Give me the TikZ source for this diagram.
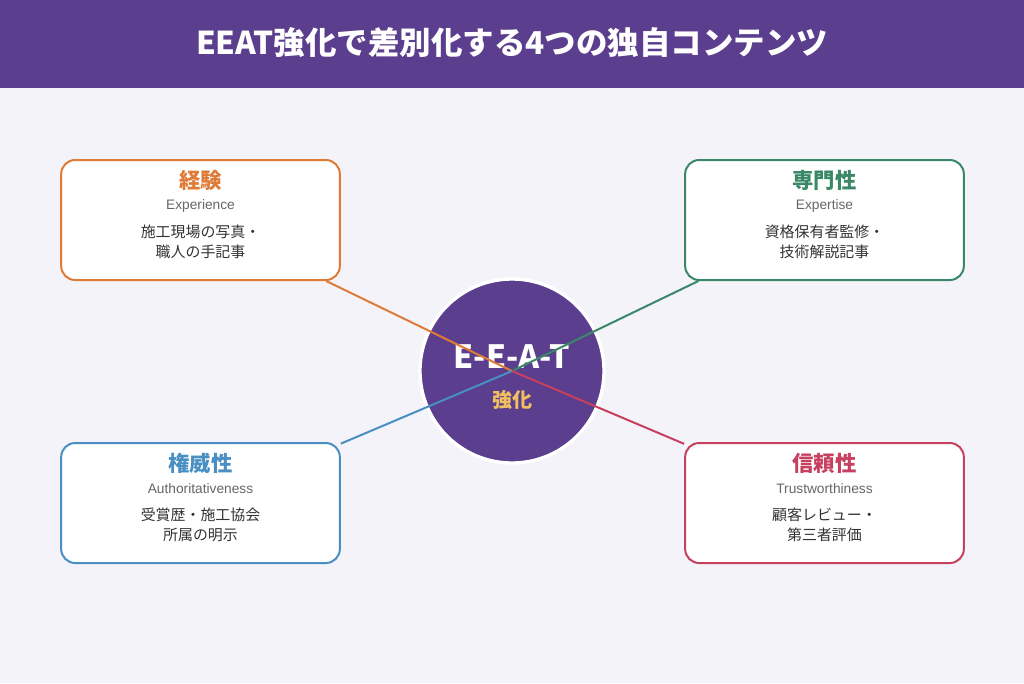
\documentclass[tikz,border=0pt]{standalone}
\usepackage{fontspec}
\setmainfont{Noto Sans CJK JP}
\newfontfamily\engfont{Liberation Sans}
\definecolor{purp}{HTML}{5B3E8E}
\definecolor{bgc}{HTML}{F4F3F9}
\definecolor{cor}{HTML}{DF7B36}
\definecolor{cgr}{HTML}{3B8868}
\definecolor{cbl}{HTML}{4A8FC3}
\definecolor{crd}{HTML}{C8405F}
\definecolor{cgold}{HTML}{F0C060}
\definecolor{tgrey}{HTML}{666666}
\definecolor{tdark}{HTML}{333333}
\tikzset{
  card/.style={draw=#1, line width=1.5pt, fill=white, rounded corners=10.5pt, minimum width=209pt, minimum height=90pt, inner sep=0pt},
  head/.style={text=#1, font=\fontsize{16}{18}\selectfont\bfseries, inner sep=0pt},
  eng/.style={text=tgrey, font=\engfont\fontsize{10.3}{12}\selectfont, inner sep=0pt},
  desc/.style={text=tdark, font=\fontsize{11.2}{15}\selectfont, align=center, inner sep=0pt},
  link/.style={draw=#1, line width=1.5pt},
}
\begin{document}
\begin{tikzpicture}[x=0.75pt,y=-0.75pt]
\useasboundingbox (0,0) rectangle (1024,683);
\fill[bgc] (0,0) rectangle (1024,683);
\fill[purp] (0,0) rectangle (1024,88);
\node[text=white, font=\fontsize{23.6}{26}\selectfont\bfseries, inner sep=0pt] (title) at (512,43) {EEAT強化で差別化する4つの独自コンテンツ};

% cards
\node[card=cor] (b1) at (200.5,220) {};
\node[card=cgr] (b2) at (824.5,220) {};
\node[card=cbl] (b3) at (200.5,503) {};
\node[card=crd] (b4) at (824.5,503) {};

% center circle
\node[circle, fill=purp, draw=white, line width=2.5pt, minimum size=138pt, inner sep=0pt] (c) at (512,371) {};
\node[text=white, font=\fontsize{24}{26}\selectfont\bfseries, inner sep=0pt] (ct) at (512,357) {E-E-A-T};
\node[text=cgold, font=\fontsize{15}{18}\selectfont\bfseries, inner sep=0pt] (cs) at (512,400) {強化};

% connectors
\draw[link=cor] (b1) -- (c.center);
\draw[link=cgr] (b2) -- (c.center);
\draw[link=cbl] (b3) -- (c.center);
\draw[link=crd] (b4) -- (c.center);

% card texts
\node[head=cor] (h1) at (200.5,180) {経験};
\node[eng] (e1) at (200.5,206) {Experience};
\node[desc] (d1) at (200.5,242) {施工現場の写真・\\職人の手記事};

\node[head=cgr] (h2) at (824.5,180) {専門性};
\node[eng] (e2) at (824.5,206) {Expertise};
\node[desc] (d2) at (824.5,242) {資格保有者監修・\\技術解説記事};

\node[head=cbl] (h3) at (200.5,463) {権威性};
\node[eng] (e3) at (200.5,489) {Authoritativeness};
\node[desc] (d3) at (200.5,525) {受賞歴・施工協会\\所属の明示};

\node[head=crd] (h4) at (824.5,463) {信頼性};
\node[eng] (e4) at (824.5,489) {Trustworthiness};
\node[desc] (d4) at (824.5,525) {顧客レビュー・\\第三者評価};
\end{tikzpicture}
\end{document}
